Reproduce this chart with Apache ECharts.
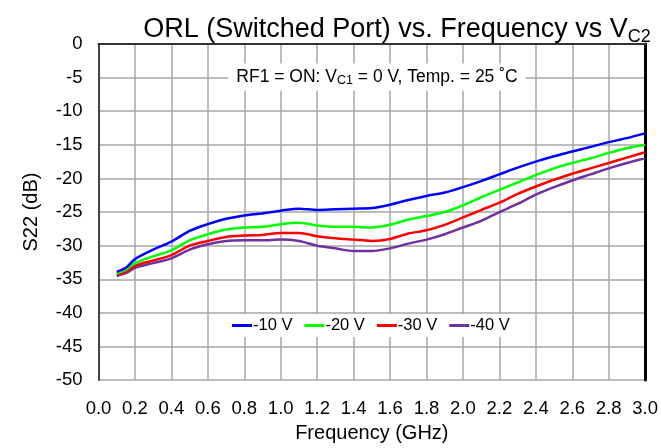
<!DOCTYPE html>
<html>
<head>
<meta charset="utf-8">
<script src="https://cdn.jsdelivr.net/npm/echarts@6/dist/echarts.min.js"></script>
<style>
  html, body { margin: 0; padding: 0; background: #fff; }
  #main { width: 661px; height: 448px; }
</style>
</head>
<body>
<div id="main"></div>
<script>
// frequency points (GHz)
var freq = [0.1, 0.15, 0.2, 0.3, 0.4, 0.5, 0.6, 0.7, 0.8, 0.9, 1.0, 1.1, 1.2, 1.3, 1.4, 1.5,
            1.6, 1.7, 1.8, 1.9, 2.0, 2.1, 2.2, 2.3, 2.4, 2.5, 2.6, 2.7, 2.8, 2.9, 3.0];

// S22 (dB) per V_C2
var s10 = [-33.9, -33.3, -32.0, -30.6, -29.4, -27.8, -26.8, -26.0, -25.5, -25.2, -24.8, -24.5, -24.7, -24.6, -24.5, -24.4,
           -23.9, -23.2, -22.6, -22.1, -21.3, -20.4, -19.4, -18.4, -17.5, -16.7, -16.0, -15.3, -14.6, -14.0, -13.3];
var s20 = [-34.1, -33.6, -32.6, -31.6, -30.7, -29.2, -28.3, -27.6, -27.3, -27.2, -26.8, -26.6, -27.0, -27.2, -27.2, -27.3,
           -26.9, -26.1, -25.6, -25.0, -24.0, -22.8, -21.7, -20.6, -19.5, -18.5, -17.7, -17.0, -16.2, -15.5, -15.0];
var s30 = [-34.3, -33.9, -33.0, -32.2, -31.4, -30.0, -29.3, -28.7, -28.5, -28.4, -28.1, -28.1, -28.6, -28.9, -29.1, -29.3,
           -29.0, -28.2, -27.7, -26.9, -25.8, -24.7, -23.6, -22.3, -21.2, -20.2, -19.3, -18.5, -17.7, -16.9, -16.1];
var s40 = [-34.5, -34.1, -33.3, -32.6, -31.9, -30.6, -29.8, -29.3, -29.2, -29.2, -29.1, -29.3, -30.0, -30.4, -30.8, -30.8,
           -30.4, -29.7, -29.1, -28.3, -27.3, -26.3, -25.0, -23.8, -22.4, -21.3, -20.3, -19.4, -18.5, -17.7, -17.0];

var names = ['-10 V', '-20 V', '-30 V', '-40 V'];
var colors = ['#0000ff', '#00ff00', '#ff0000', '#7030a0'];
var allData = [s10, s20, s30, s40];

var font = 'Arial, "Liberation Sans", sans-serif';

function pairs(ys) {
    return freq.map(function (f, i) { return [f, ys[i]]; });
}

var chart = echarts.init(document.getElementById('main'));

var option = {
    backgroundColor: '#fff',
    animation: false,
    textStyle: { fontFamily: font },
    title: {
        text: 'ORL (Switched Port) vs. Frequency vs V{sub|C2}',
        left: 392,
        top: 8,
        textAlign: 'center',
        textStyle: {
            fontFamily: font,
            fontSize: 27,
            fontWeight: 'normal',
            color: '#000',
            rich: {
                sub: { fontFamily: font, fontSize: 18, color: '#000', verticalAlign: 'bottom', padding: [15, 0, 0, 0] }
            }
        }
    },
    grid: { left: 98.5, right: 14, top: 44, bottom: 64 },
    legend: {
        data: names,
        left: 222,
        top: 314,
        backgroundColor: '#fff',
        padding: [3, 10],
        itemGap: 12,
        itemWidth: 20,
        itemHeight: 3,
        icon: 'rect',
        textStyle: { fontFamily: font, fontSize: 16.5, color: '#000', padding: [0, 0, 0, -4] }
    },
    graphic: [{
        type: 'text',
        x: 377,
        y: 77,
        style: {
            text: 'RF1 = ON: V{sub|C1} = 0 V, Temp. = 25 ˚C',
            fontFamily: font,
            fontSize: 17.5,
            fill: '#000',
            align: 'center',
            verticalAlign: 'middle',
            backgroundColor: '#fff',
            padding: [3, 8],
            rich: {
                sub: { fontFamily: font, fontSize: 12.5, fill: '#000', verticalAlign: 'bottom', padding: [8, 0, 0, 0] }
            }
        },
        z: 100
    }],
    xAxis: {
        type: 'value',
        min: 0,
        max: 3,
        interval: 0.2,
        name: 'Frequency (GHz)',
        nameLocation: 'middle',
        nameGap: 40,
        nameTextStyle: { fontFamily: font, fontSize: 20, color: '#000' },
        axisLine: { show: true, lineStyle: { color: '#333', width: 2 } },
        axisTick: { show: false },
        axisLabel: {
            fontFamily: font, fontSize: 18.5, color: '#000', margin: 19,
            formatter: function (v) { return v.toFixed(1); }
        },
        splitLine: { show: true, lineStyle: { color: '#a6a6a6', width: 1.5 } }
    },
    yAxis: [{
        type: 'value',
        min: -50,
        max: 0,
        interval: 5,
        name: 'S22 (dB)',
        nameLocation: 'middle',
        nameGap: 57,
        nameTextStyle: { fontFamily: font, fontSize: 20, color: '#000' },
        axisLine: { show: true, lineStyle: { color: '#444', width: 2 } },
        axisTick: { show: false },
        axisLabel: { fontFamily: font, fontSize: 18.5, color: '#000', margin: 16 },
        splitLine: { show: true, lineStyle: { color: '#a6a6a6', width: 1.5 } }
    }, {
        type: 'value',
        position: 'right',
        min: -50,
        max: 0,
        interval: 5,
        axisLine: { show: true, lineStyle: { color: '#000', width: 3 } },
        axisTick: { show: false },
        axisLabel: { show: false },
        splitLine: { show: false }
    }],
    series: allData.map(function (d, i) {
        return {
            name: names[i],
            type: 'line',
            data: pairs(d),
            showSymbol: false,
            smooth: 0.3,
            z: 10 - i,
            itemStyle: { color: colors[i] },
            lineStyle: { color: colors[i], width: 2.5 }
        };
    })
};

chart.setOption(option);
</script>
</body>
</html>
